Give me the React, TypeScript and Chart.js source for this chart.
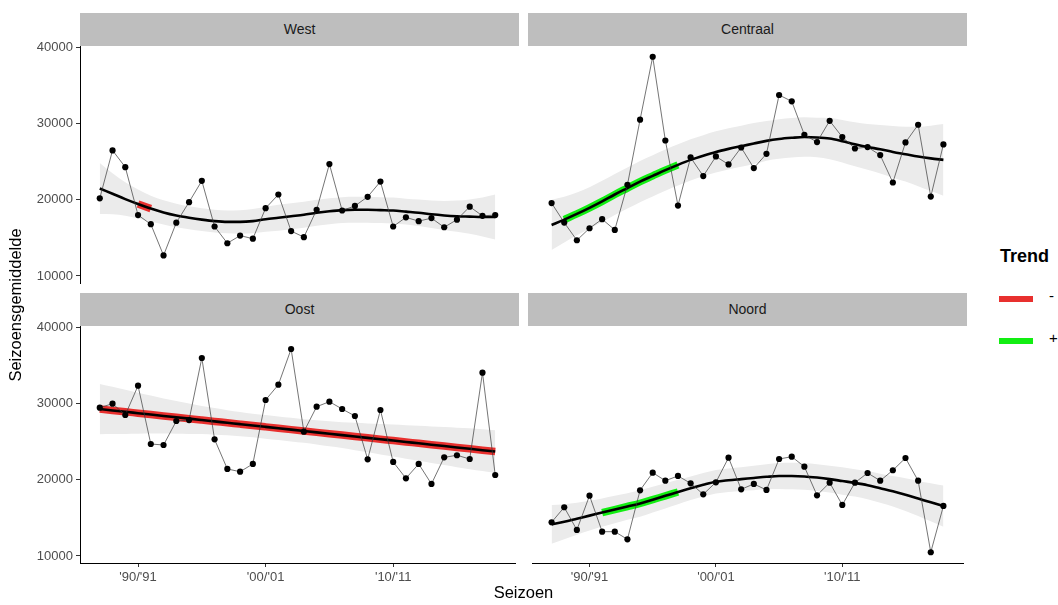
import React, { useEffect, useRef } from "react";
import { Chart, registerables } from "chart.js";

Chart.register(...registerables);

// ---------------- data ----------------
// season start years: 1987 = '87/'88 ... 2018 = '18/'19
const SEASONS = [
  1987, 1988, 1989, 1990, 1991, 1992, 1993, 1994, 1995, 1996, 1997, 1998, 1999, 2000, 2001, 2002,
  2003, 2004, 2005, 2006, 2007, 2008, 2009, 2010, 2011, 2012, 2013, 2014, 2015, 2016, 2017, 2018,
];
const X_TICKS = [1990, 2000, 2010];
const X_TICK_LABELS = ["'90/'91", "'00/'01", "'10/'11"];
const Y_TICKS = [10000, 20000, 30000, 40000];

const REGIONS = ["West", "Centraal", "Oost", "Noord"];

const WEST_OBS = [
  20200, 26500, 24300, 18000, 16800, 12700, 17000, 19700, 22500, 16500, 14300, 15300, 14900, 18900, 20700, 15900,
  15100, 18700, 24700, 18600, 19200, 20400, 22400, 16500, 17700, 17200, 17600, 16400, 17400, 19100, 17900, 18000,
];
const WEST_FIT = [
  21500, 20800, 20100, 19450, 18850, 18350, 17950, 17650, 17400, 17200, 17100, 17100, 17200, 17450, 17650, 17850,
  18050, 18300, 18500, 18650, 18700, 18700, 18650, 18600, 18450, 18300, 18100, 17950, 17850, 17800, 17750, 17750,
];
const WEST_LOW = [
  18150, 18100, 17900, 17550, 17150, 16750, 16400, 16150, 15900, 15700, 15600, 15550, 15600, 15800, 15950, 16150,
  16350, 16600, 16800, 16950, 17000, 17000, 16950, 16900, 16750, 16550, 16300, 16050, 15800, 15550, 15200, 14800,
];
const WEST_HIGH = [
  24850, 23500, 22300, 21350, 20550, 19950, 19500, 19150, 18900, 18700, 18600, 18650, 18800, 19100, 19350, 19550,
  19750, 20000, 20200, 20350, 20400, 20400, 20350, 20300, 20150, 20050, 19900, 19850, 19900, 20050, 20300, 20700,
];

const CENTRAAL_OBS = [
  19570, 17010, 14690, 16270, 17460, 16050, 21970, 30530, 38800, 27800, 19250, 25570, 23120, 25700, 24650, 26880,
  24170, 26050, 33780, 32940, 28550, 27590, 30390, 28250, 26750, 26930, 25880, 22280, 27540, 29870, 20430, 27280,
];
const CENTRAAL_FIT = [
  16700, 17400, 18150, 18950, 19800, 20700, 21550, 22400, 23150, 23900, 24600, 25250, 25800, 26300, 26700, 27050,
  27400, 27750, 28000, 28150, 28250, 28200, 28050, 27700, 27300, 26950, 26650, 26300, 26000, 25700, 25450, 25250,
];
const CENTRAAL_LOW = [
  13400, 14400, 15350, 16250, 17100, 18000, 18850, 19700, 20450, 21200, 21900, 22550, 23100, 23600, 24000, 24350,
  24700, 25150, 25400, 25550, 25650, 25600, 25350, 24900, 24400, 23950, 23450, 22900, 22400, 21800, 21150, 20550,
];
const CENTRAAL_HIGH = [
  20000, 20400, 20950, 21650, 22500, 23400, 24250, 25100, 25850, 26600, 27300, 27950, 28500, 29000, 29400, 29750,
  30100, 30350, 30600, 30750, 30850, 30800, 30750, 30500, 30200, 29950, 29850, 29700, 29600, 29600, 29750, 29950,
];

const OOST_OBS = [
  29480, 30010, 28520, 32370, 24710, 24580, 27730, 27860, 36010, 25320, 21430, 21070, 22090, 30490, 32500, 37190,
  26330, 29610, 30270, 29310, 28390, 22700, 29180, 22350, 20200, 22090, 19460, 22960, 23230, 22740, 34080, 20640,
];
const OOST_FIT = [
  29300, 29120, 28940, 28760, 28580, 28400, 28220, 28040, 27860, 27680, 27500, 27320, 27140, 26960, 26780, 26600,
  26420, 26240, 26060, 25880, 25700, 25520, 25340, 25160, 24980, 24800, 24620, 24440, 24260, 24080, 23900, 23720,
];
const OOST_LOW = [
  26000, 26020, 26040, 26060, 26080, 26100, 26070, 26040, 26010, 25930, 25850, 25720, 25590, 25410, 25230, 25050,
  24870, 24640, 24410, 24180, 23900, 23620, 23340, 23060, 22780, 22500, 22220, 21940, 21660, 21380, 21150, 20920,
];
const OOST_HIGH = [
  32600, 32220, 31840, 31460, 31080, 30700, 30370, 30040, 29710, 29430, 29150, 28920, 28690, 28510, 28330, 28150,
  27970, 27840, 27710, 27580, 27500, 27420, 27340, 27260, 27180, 27100, 27020, 26940, 26860, 26780, 26650, 26520,
];

const NOORD_OBS = [
  14430, 16400, 13420, 17920, 13190, 13190, 12190, 18630, 20940, 19890, 20510, 19550, 18100, 19680, 22910, 18760,
  19460, 18670, 22740, 23040, 21730, 17970, 19630, 16700, 19630, 20900, 19890, 21260, 22870, 19890, 10490, 16570,
];
const NOORD_FIT = [
  14150, 14500, 14900, 15300, 15700, 16100, 16500, 16900, 17400, 17900, 18400, 18900, 19350, 19750, 19950, 20100,
  20250, 20400, 20500, 20500, 20450, 20300, 20100, 19850, 19600, 19300, 18900, 18500, 18050, 17550, 17050, 16550,
];
const NOORD_LOW = [
  11590, 12200, 12800, 13350, 13850, 14300, 14750, 15150, 15700, 16250, 16800, 17350, 17800, 18200, 18400, 18550,
  18650, 18750, 18800, 18750, 18700, 18550, 18350, 18050, 17800, 17450, 17000, 16500, 15900, 15250, 14550, 13850,
];
const NOORD_HIGH = [
  16710, 16800, 17000, 17250, 17550, 17900, 18250, 18650, 19100, 19550, 20000, 20450, 20900, 21300, 21500, 21650,
  21850, 22050, 22200, 22250, 22200, 22050, 21850, 21650, 21400, 21150, 20800, 20500, 20200, 19850, 19550, 19250,
];

// periods with a significant trend (start season, end season, sign)
const WEST_TREND = [1990, 1991, "-"];
const CENTRAAL_TREND = [1988, 1997, "+"];
const OOST_TREND = [1987, 2018, "-"];
const NOORD_TREND = [1991, 1997, "+"];

const TREND_LABELS = ["-", "+"];

// ---------------- style ----------------
const FONT = "'Liberation Sans', Arial, Helvetica, sans-serif";
const TREND_COLORS: Record<string, string> = { "-": "#E8302E", "+": "#12EE12" };
const RIBBON = "#EBEBEB";
const STRIP_BG = "#BEBEBE";
const Y_MIN = 9075;
const Y_MAX = 40215;
const X_MIN = 1985.45;
const X_MAX = 2019.55;

const PANEL_W = 439;
const PANEL_H = 237;
const COL_X = [80, 528];
const ROW_Y = [46, 326];
const STRIP_H = 33;
const AXIS_W = 80;
const PAD = 10;
const XAXIS_H = 30;

type PanelData = {
  name: string;
  obs: number[];
  fit: number[];
  low: number[];
  high: number[];
  trend: (number | string)[];
};

const PANELS: PanelData[] = [
  { name: REGIONS[0], obs: WEST_OBS, fit: WEST_FIT, low: WEST_LOW, high: WEST_HIGH, trend: WEST_TREND },
  { name: REGIONS[1], obs: CENTRAAL_OBS, fit: CENTRAAL_FIT, low: CENTRAAL_LOW, high: CENTRAAL_HIGH, trend: CENTRAAL_TREND },
  { name: REGIONS[2], obs: OOST_OBS, fit: OOST_FIT, low: OOST_LOW, high: OOST_HIGH, trend: OOST_TREND },
  { name: REGIONS[3], obs: NOORD_OBS, fit: NOORD_FIT, low: NOORD_LOW, high: NOORD_HIGH, trend: NOORD_TREND },
];

function Panel({ data, col, row }: { data: PanelData; col: number; row: number }) {
  const ref = useRef<HTMLCanvasElement | null>(null);
  const isLeft = col === 0;
  const isBottom = row === 1;
  const canvasLeft = isLeft ? COL_X[0] - AXIS_W : COL_X[1];
  const canvasTop = ROW_Y[row] - PAD;
  const canvasW = isLeft ? AXIS_W + PANEL_W : PANEL_W;
  const canvasH = PAD + PANEL_H + (isBottom ? XAXIS_H : PAD);

  useEffect(() => {
    if (!ref.current) return;
    const pts = (arr: number[]) => SEASONS.map((x, i) => ({ x, y: arr[i] }));
    const [from, to, sign] = data.trend as [number, number, string];
    const trendPts = SEASONS.map((x, i) => ({ x, y: data.fit[i] })).filter((p) => p.x >= from && p.x <= to);

    const chart = new Chart(ref.current, {
      type: "line",
      data: {
        datasets: [
          {
            data: pts(data.obs),
            borderColor: "#3A3A3A",
            borderWidth: 0.7,
            pointRadius: 3.1,
            pointBackgroundColor: "#000000",
            pointBorderWidth: 0,
            tension: 0,
            fill: false,
            order: 0,
          },
          {
            data: pts(data.fit),
            borderColor: "#000000",
            borderWidth: 2.6,
            pointRadius: 0,
            cubicInterpolationMode: "monotone",
            fill: false,
            order: 1,
          },
          {
            data: trendPts,
            borderColor: TREND_COLORS[sign],
            borderWidth: 7.5,
            borderCapStyle: "butt",
            pointRadius: 0,
            cubicInterpolationMode: "monotone",
            fill: false,
            order: 2,
          },
          {
            data: pts(data.high),
            borderWidth: 0,
            borderColor: "rgba(0,0,0,0)",
            backgroundColor: RIBBON,
            pointRadius: 0,
            cubicInterpolationMode: "monotone",
            fill: "+1",
            order: 3,
          },
          {
            data: pts(data.low),
            borderWidth: 0,
            borderColor: "rgba(0,0,0,0)",
            pointRadius: 0,
            cubicInterpolationMode: "monotone",
            fill: false,
            order: 4,
          },
        ],
      },
      options: {
        animation: false,
        responsive: false,
        events: [],
        layout: { padding: { left: 0, right: 0, top: PAD, bottom: isBottom ? 0 : PAD } },
        plugins: { legend: { display: false }, tooltip: { enabled: false }, title: { display: false } },
        scales: {
          x: {
            type: "linear",
            min: X_MIN,
            max: X_MAX,
            display: isBottom,
            afterBuildTicks: (s: any) => {
              s.ticks = X_TICKS.map((v) => ({ value: v }));
            },
            afterFit: (s: any) => {
              if (!isBottom) return;
              s.height = XAXIS_H;
              s.paddingLeft = 0;
              s.paddingRight = 0;
            },
            ticks: {
              autoSkip: false,
              maxRotation: 0,
              padding: 3,
              color: "#4D4D4D",
              font: { family: FONT, size: 13 },
              callback: (_v: any, i: number) => X_TICK_LABELS[i],
            },
            grid: { display: true, drawOnChartArea: false, drawTicks: true, tickLength: 4, color: "#333333" },
            border: { display: true, color: "#000000", width: 1 },
          },
          y: {
            type: "linear",
            min: Y_MIN,
            max: Y_MAX,
            display: isLeft,
            afterBuildTicks: (s: any) => {
              s.ticks = Y_TICKS.map((v) => ({ value: v }));
            },
            afterFit: (s: any) => {
              if (!isLeft) return;
              s.width = AXIS_W;
              s.paddingTop = 0;
              s.paddingBottom = 0;
            },
            ticks: {
              padding: 3,
              color: "#4D4D4D",
              font: { family: FONT, size: 13 },
              callback: (v: any) => String(v),
            },
            grid: { display: true, drawOnChartArea: false, drawTicks: true, tickLength: 4, color: "#333333" },
            border: { display: true, color: "#000000", width: 1 },
          },
        },
      } as any,
    } as any);
    return () => chart.destroy();
  }, [data, isLeft, isBottom]);

  return (
    <>
      <div
        style={{
          position: "absolute",
          left: COL_X[col],
          top: ROW_Y[row] - STRIP_H,
          width: PANEL_W,
          height: STRIP_H,
          background: STRIP_BG,
          color: "#1A1A1A",
          font: `14px ${FONT}`,
          lineHeight: `${STRIP_H}px`,
          textAlign: "center",
        }}
      >
        {data.name}
      </div>
      <canvas
        ref={ref}
        width={canvasW}
        height={canvasH}
        style={{ position: "absolute", left: canvasLeft, top: canvasTop, width: canvasW, height: canvasH }}
      />
    </>
  );
}

function Text({ cx, cy, children, style }: { cx: number; cy: number; children: any; style?: any }) {
  return (
    <div
      style={{
        position: "absolute",
        left: cx - 150,
        top: cy - 12,
        width: 300,
        height: 24,
        lineHeight: "24px",
        textAlign: "center",
        whiteSpace: "nowrap",
        ...style,
      }}
    >
      {children}
    </div>
  );
}

export default function App() {
  const panelsCenterX = (COL_X[0] + COL_X[1] + PANEL_W) / 2;
  const panelsCenterY = (ROW_Y[0] + ROW_Y[1] + PANEL_H) / 2;
  return (
    <div
      style={{
        position: "fixed",
        left: 0,
        top: 0,
        width: 1058,
        height: 605,
        background: "#FFFFFF",
        overflow: "hidden",
        fontFamily: FONT,
      }}
    >
      {PANELS.map((p, i) => (
        <Panel key={p.name} data={p} col={i % 2} row={Math.floor(i / 2)} />
      ))}
      <Text cx={panelsCenterX} cy={595} style={{ font: `16.5px ${FONT}`, color: "#000" }}>
        Seizoen
      </Text>
      <Text cx={18} cy={panelsCenterY} style={{ font: `16.5px ${FONT}`, color: "#000", transform: "rotate(-90deg)" }}>
        Seizoensgemiddelde
      </Text>
      {/* legend */}
      <div style={{ position: "absolute", left: 1000, top: 246, height: 24, lineHeight: "24px", font: `bold 18px ${FONT}`, color: "#000" }}>
        Trend
      </div>
      {TREND_LABELS.map((lab, i) => (
        <React.Fragment key={lab}>
          <div
            style={{
              position: "absolute",
              left: 999,
              top: 296 + i * 42,
              width: 34,
              height: 6,
              background: TREND_COLORS[lab],
            }}
          />
          <div
            style={{
              position: "absolute",
              left: 1049,
              top: 287 + i * 42,
              height: 24,
              lineHeight: "24px",
              font: `15px ${FONT}`,
              color: "#000",
            }}
          >
            {lab}
          </div>
        </React.Fragment>
      ))}
    </div>
  );
}
